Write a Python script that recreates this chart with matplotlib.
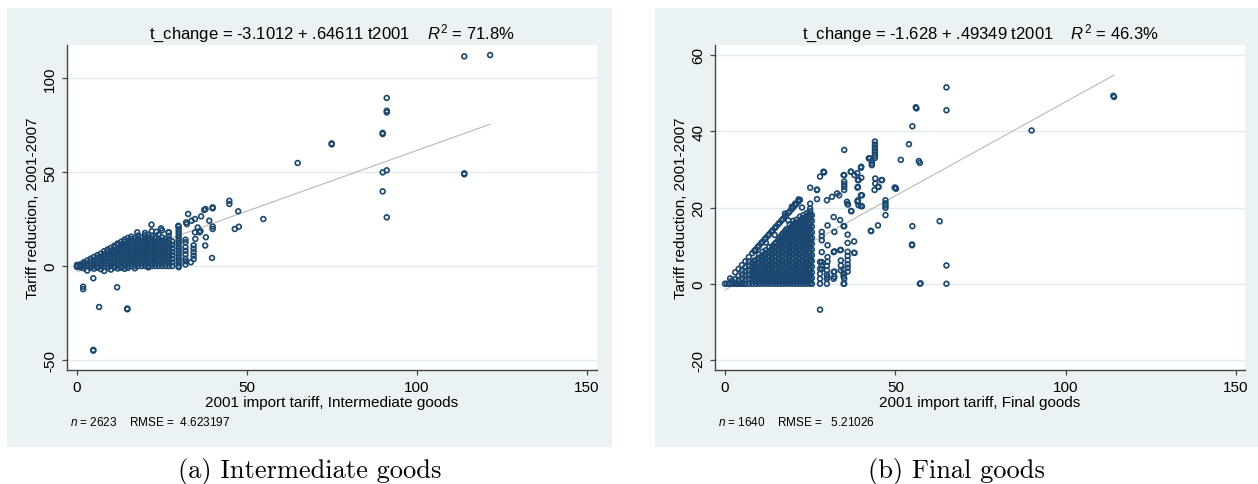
import matplotlib
matplotlib.use("Agg")
import matplotlib.pyplot as plt
from matplotlib.patches import Rectangle

plt.rcParams['font.family'] = ['Liberation Sans', 'DejaVu Sans']
plt.rcParams['mathtext.fontset'] = 'custom'
plt.rcParams['mathtext.rm'] = 'Liberation Sans'
plt.rcParams['mathtext.it'] = 'Liberation Sans:italic'
plt.rcParams['axes.unicode_minus'] = False

# ---------------- data: panel (a) intermediate goods ----------------
A_INTERCEPT = -3.1012
A_SLOPE = 0.64611
A_TITLE = "t_change = -3.1012 + .64611 t2001    $R^2$ = 71.8%"
A_NOTE = "$n$ = 2623    RMSE =  4.623197"
A_XLABEL = "2001 import tariff, Intermediate goods"
A_CAPTION = "(a) Intermediate goods"
A_YTICKS = [-50, 0, 50, 100]

# dense cloud, read column by column: (tariff 2001, [reductions])
A_DENSE = [
    (0, [0, 0.6, -0.5]),
    (1, [0, 0.9, -0.7]),
    (2, [0, 1.0, 2.0, -1.2]),
    (3, [0, 1.4, 2.9, -2.4]),
    (4, [0, 1.3, 2.7, 3.9, -1.0]),
    (5, [0, 1.6, 3.1, 4.8, -1.4]),
    (6, [0, 1.5, 3.0, 4.4, 5.8, -0.9]),
    (7, [0, 1.7, 3.3, 4.9, 6.6, -1.7]),
    (8, [0, 1.6, 3.2, 4.7, 6.3, 7.9, -2.6]),
    (9, [0, 1.5, 3.1, 4.6, 6.2, 7.7, 8.8, -1.1]),
    (10, [0, 1.6, 3.3, 4.9, 6.5, 8.2, 9.7, -1.9]),
    (11, [0, 1.7, 3.4, 5.0, 6.7, 8.3, 9.9, 10.8, -0.8]),
    (12, [0, 1.6, 3.2, 4.8, 6.4, 8.1, 9.6, 11.2, 12.0, -1.3]),
    (13, [0, 1.7, 3.3, 5.0, 6.6, 8.3, 9.9, 11.5, 12.9, -0.9]),
    (14, [0, 1.6, 3.2, 4.9, 6.5, 8.1, 9.8, 11.4, 13.0, 14.1, -1.5]),
    (15, [0, 1.7, 3.4, 5.1, 6.8, 8.4, 10.1, 11.8, 13.4, 15.0, -1.0]),
    (16, [0, 1.6, 3.2, 4.8, 6.4, 8.0, 9.6, 11.2, 12.8, 14.3, 15.6]),
    (17, [0, 1.7, 3.3, 5.0, 6.7, 8.3, 10.0, 11.7, 13.3, 14.9, -1.2]),
    (18, [0, 1.6, 3.3, 4.9, 6.6, 8.2, 9.8, 11.5, 13.1, 14.6, 16.2]),
    (19, [0, 1.7, 3.4, 5.0, 6.7, 8.4, 10.1, 11.8, 13.4, 15.1]),
    (20, [0, 1.6, 3.2, 4.9, 6.5, 8.1, 9.7, 11.4, 13.0, 14.6, 16.3, 17.6]),
    (21, [0, 1.7, 3.4, 5.1, 6.7, 8.4, 10.0, 11.7, 13.4, 15.0, 16.6, -0.7]),
    (22, [0, 1.6, 3.2, 4.8, 6.5, 8.1, 9.7, 11.3, 12.9, 14.6, 16.1, 18.5]),
    (23, [0, 1.7, 3.3, 5.0, 6.6, 8.3, 9.9, 11.6, 13.2, 14.8]),
    (24, [0, 1.6, 3.2, 4.9, 6.5, 8.1, 9.7, 11.3, 13.0, 14.6, 16.8]),
    (25, [0, 1.7, 3.4, 5.0, 6.7, 8.4, 10.0, 11.7, 13.3, 15.2, 19.0]),
    (26, [0, 1.6, 3.3, 4.9, 6.6, 8.2, 9.9, 11.5, 13.1, 14.5]),
    (27, [0, 1.8, 3.5, 5.3, 7.1, 8.9, 10.6, 12.4, 14.2, 16.0, 17.9]),
    (28, [0, 1.9, 3.8, 5.7, 7.5, 9.4, 11.3, 13.1]),
    (29.9, [-0.6, 0, 1.5, 3.0, 4.5, 6.0, 7.5, 9.0, 10.5, 12.0, 13.5, 15.0,
            16.5, 18.0, 19.5, 21.0]),
    (31.9, [0.8, 2.5, 3.9, 6.2, 8.1, 10.0, 12.6]),
    (34.3, [3.7, 5.5, 7.3, 9.2, 11.0]),
]

A_SPARSE_X = [1.8, 1.8, 4.8, 11.8, 6.5, 14.8, 14.8, 4.8, 4.8,
              17.7, 21.9, 23.4, 24.7, 26.9, 29.8,
              32.3, 32.1, 32.7, 33.7, 34.7, 36.5, 34.7, 36.0, 34.8, 31.9,
              37.9, 37.7, 36.3, 37.8, 37.4, 38.9, 39.9, 39.9, 39.9, 39.9,
              39.7, 33.5, 35.5,
              44.8, 44.8, 47.4, 46.4, 47.6, 54.8, 64.9, 74.9, 74.9,
              89.9, 89.9, 91.1, 91.1, 91.1, 89.9, 91.1, 89.9, 91.1,
              113.9, 113.9, 113.9, 121.5]
A_SPARSE_Y = [-11.0, -12.3, -6.5, -11.3, -21.8, -23.0, -22.6, -45.0, -44.6,
              17.9, 22.0, 18.2, 20.0, 17.9, 21.4,
              22.3, 23.2, 27.7, 24.1, 25.0, 26.4, 17.9, 17.9, 14.4, 14.0,
              15.3, 10.9, 18.6, 30.3, 29.8, 24.1, 30.7, 31.2, 19.7, 21.0,
              4.3, 2.0, 20.5,
              33.0, 34.7, 29.1, 19.7, 20.9, 25.0, 54.8, 64.7, 65.2,
              70.2, 70.8, 81.7, 82.6, 89.4, 49.8, 50.9, 39.7, 25.9,
              48.8, 49.3, 111.5, 112.2]

# ---------------- data: panel (b) final goods ----------------
B_INTERCEPT = -1.628
B_SLOPE = 0.49349
B_TITLE = "t_change = -1.628 + .49349 t2001    $R^2$ = 46.3%"
B_NOTE = "$n$ = 1640    RMSE =   5.21026"
B_XLABEL = "2001 import tariff, Final goods"
B_CAPTION = "(b) Final goods"
B_YTICKS = [-20, 0, 20, 40, 60]

B_DENSE = [
    (0, [0]), (0.6, [0]), (1.2, [0]), (1.5, [1.4]), (2.0, [0, 0.8]),
    (2.6, [0]), (3.0, [0, 1.2, 3.0]), (3.6, [0]),
    (4, [0, 1.0, 2.1, 3.9]), (4.6, [0]),
    (5, [0, 1.3, 2.4, 3.5, 4.9]), (5.6, [0]),
    (6, [0, 1.1, 2.2, 3.3, 4.4, 5.9]),
    (7, [0, 1.2, 2.3, 3.5, 4.6, 5.8, 7.0]),
    (8, [0, 1.1, 2.2, 3.3, 4.4, 5.5, 8.0]),
    (8.6, [0.6, 1.7, 2.8, 3.9, 5.0, 6.1, 8.6]),
    (9, [0, 1.2, 2.4, 3.6, 4.8, 6.0, 9.0]),
    (9.6, [0.6, 1.8, 3.0, 4.2, 5.4, 6.6, 9.6]),
    (10, [0, 1.1, 2.2, 3.3, 4.4, 5.5, 6.6, 7.7, 10.0]),
    (10.6, [0.5, 1.6, 2.7, 3.8, 4.9, 6.0, 7.1, 10.6]),
    (11, [0, 1.2, 2.4, 3.6, 4.8, 6.0, 7.2, 8.4, 11.0]),
    (11.6, [0.6, 1.8, 3.0, 4.2, 5.4, 6.6, 7.8, 11.6]),
    (12, [0, 1.1, 2.2, 3.3, 4.4, 5.5, 6.6, 7.7, 8.8, 10.8, 12.0]),
    (12.6, [0.5, 1.7, 2.8, 3.9, 5.0, 6.1, 7.2, 8.3, 12.6]),
    (13, [0, 1.2, 2.4, 3.6, 4.8, 6.0, 7.2, 8.4, 9.6, 13.0]),
    (13.6, [0.6, 1.8, 3.0, 4.2, 5.4, 6.6, 7.8, 9.0, 13.6]),
    (14, [0, 1.1, 2.2, 3.3, 4.4, 5.5, 6.6, 7.7, 8.8, 9.9, 14.0]),
    (14.6, [0.5, 1.7, 2.8, 3.9, 5.0, 6.1, 7.2, 8.3, 9.4, 10.5, 12.8, 14.6]),
    (15, [0, 1.2, 2.4, 3.6, 4.8, 6.0, 7.2, 8.4, 9.6, 10.8, 15.0]),
    (15.6, [0.6, 1.8, 3.0, 4.2, 5.4, 6.6, 7.8, 9.0, 10.2, 11.4, 15.6]),
    (16, [0, 1.1, 2.2, 3.3, 4.4, 5.5, 6.6, 7.7, 8.8, 9.9, 11.0, 12.1, 16.0]),
    (16.6, [0.5, 1.7, 2.8, 3.9, 5.0, 6.1, 7.2, 8.3, 9.4, 10.5, 11.6, 12.7,
            16.6]),
    (17, [0, 1.2, 2.4, 3.6, 4.8, 6.0, 7.2, 8.4, 9.6, 10.8, 12.0, 13.2, 17.0]),
    (17.6, [0.6, 1.8, 3.0, 4.2, 5.4, 6.6, 7.8, 9.0, 10.2, 11.4, 12.6, 13.8,
            17.6, 18.4]),
    (18, [0, 1.1, 2.2, 3.3, 4.4, 5.5, 6.6, 7.7, 8.8, 9.9, 11.0, 12.1, 13.2,
          14.3, 18.0]),
    (18.6, [0.5, 1.7, 2.8, 3.9, 5.0, 6.1, 7.2, 8.3, 9.4, 10.5, 11.6, 12.7,
            13.8, 16.6, 18.6]),
    (19, [0, 1.2, 2.4, 3.6, 4.8, 6.0, 7.2, 8.4, 9.6, 10.8, 12.0, 13.2, 14.4,
          15.6, 19.0]),
    (19.6, [0.6, 1.8, 3.0, 4.2, 5.4, 6.6, 7.8, 9.0, 10.2, 11.4, 12.6, 13.8,
            15.0, 19.6, 20.2]),
    (20, [0, 1.1, 2.2, 3.3, 4.4, 5.5, 6.6, 7.7, 8.8, 9.9, 11.0, 12.1, 13.2,
          14.3, 15.4, 16.5, 20.0]),
    (20.6, [0.5, 1.7, 2.8, 3.9, 5.0, 6.1, 7.2, 8.3, 9.4, 10.5, 11.6, 12.7,
            13.8, 14.9, 16.0, 20.6, 21.0]),
    (21, [0, 1.2, 2.4, 3.6, 4.8, 6.0, 7.2, 8.4, 9.6, 10.8, 12.0, 13.2, 14.4,
          15.6, 16.8, 21.0]),
    (21.6, [0.6, 1.8, 3.0, 4.2, 5.4, 6.6, 7.8, 9.0, 10.2, 11.4, 12.6, 13.8,
            15.0, 16.2, 21.6, 22.1]),
    (22, [0, 1.1, 2.2, 3.3, 4.4, 5.5, 6.6, 7.7, 8.8, 9.9, 11.0, 12.1, 13.2,
          14.3, 15.4, 16.5, 17.6, 22.0]),
    (22.6, [0.5, 1.7, 2.8, 3.9, 5.0, 6.1, 7.2, 8.3, 9.4, 10.5, 11.6, 12.7,
            13.8, 14.9, 16.0, 17.1, 20.0]),
    (23, [0, 1.2, 2.4, 3.6, 4.8, 6.0, 7.2, 8.4, 9.6, 10.8, 12.0, 13.2, 14.4,
          15.6, 16.8, 18.0]),
    (23.6, [0.6, 1.8, 3.0, 4.2, 5.4, 6.6, 7.8, 9.0, 10.2, 11.4, 12.6, 13.8,
            15.0, 16.2, 17.4]),
    (24, [0, 1.1, 2.2, 3.3, 4.4, 5.5, 6.6, 7.7, 8.8, 9.9, 11.0, 12.1, 13.2,
          14.3, 15.4, 16.5, 17.6, 18.5]),
    (24.6, [0.5, 1.7, 2.8, 3.9, 5.0, 6.1, 7.2, 8.3, 9.4, 10.5, 11.6, 12.7,
            13.8, 14.9, 16.0, 17.1, 18.2]),
    (25, [0, 1.2, 2.4, 3.6, 4.8, 6.0, 7.2, 8.4, 9.6, 10.8, 12.0, 13.2, 14.4,
          15.6, 16.8, 18.0, 19.0, 19.7, 21.0]),
    (25.5, [0, 1.5, 3.0, 4.5, 6.0, 7.5, 9.0, 10.5, 12.0, 13.5, 15.0, 16.5,
            18.0]),
    (27.9, [0, 1.3, 2.6, 3.9, 5.7]),
]

B_SPARSE_X = [65, 65, 56, 56.2, 55, 54, 56.9, 57.2, 51.6, 50, 50.2,
              47.1, 47.1, 47.1, 47.1, 47.1,
              44, 44, 44, 44, 44, 44, 44, 43.1, 43.1, 43.1, 42.2,
              40, 36.9, 38.8, 39.2, 44.1, 44.1, 46.1, 44.9, 40, 38.9, 40.2,
              35, 35, 35, 35, 35, 35, 33.5, 31.4, 28.9, 27.9, 25, 27,
              35.8, 39.2, 40.2, 37, 36, 42.8, 44.9, 33.8, 34.8, 63, 55,
              54.9, 54.9, 65, 57.2, 57.4, 65, 27.9,
              38, 36, 36, 36, 36, 36, 36, 31.9, 33.8, 29.9, 34.8,
              34.8, 34.8, 34.8, 31.9, 31.9, 29.9, 29.9, 29.9, 29.9,
              42.6, 39.9, 37, 38, 39, 29.1, 34.8, 32.9, 29.9, 27, 27,
              39, 45.1, 45.9, 43.9, 39.9, 39, 36, 49.8, 42.9,
              36.1, 38.9, 39.9, 37.1, 35, 37.9, 36, 34, 37.9, 32.1, 30.1,
              32.1, 30.1, 31.9, 28.4, 28.4, 28.4, 28.4, 28.4, 28.4, 28.4,
              30.1, 30.1, 30.1, 32.1, 32.1, 34, 34, 34, 35, 35, 35,
              90, 114, 114.2]
B_SPARSE_Y = [51.5, 45.5, 46.3, 46.0, 41.3, 36.6, 32.2, 31.7, 32.5, 25.2, 24.9,
              21.9, 21.1, 20.5, 19.9, 18.0,
              37.3, 36.5, 35.7, 35.0, 34.3, 33.6, 33.0, 32.2, 31.6, 31.1, 32.9,
              30.7, 29.4, 29.0, 27.2, 27.6, 26.3, 27.2, 25.4, 27.8, 25.2, 23.2,
              35.1, 28.5, 26.8, 26.1, 25.4, 24.6, 23.2, 22.8, 29.4, 28.1, 25.2, 24.7,
              21.5, 20.6, 20.3, 19.1, 12.9, 13.9, 15.3, 16.7, 15.1, 16.4, 15.1,
              10.1, 10.3, 4.8, 0, 0.1, 0, -6.8,
              8.1, 8.4, 7.3, 6.2, 5.1, 4.2, 3.2, 8.3, 8.8, 0, 0,
              3.7, 2.6, 1.9, 3.1, 1.3, 4.7, 3.5, 2.4, 1.3,
              32.9, 30.4, 29.4, 28.5, 27.2, 29.2, 28.5, 23.7, 21.9, 22.2, 24.6,
              25.4, 25.4, 27.2, 24.6, 23.2, 21.9, 20.9, 25.2, 13.8,
              20.8, 21.5, 20.4, 19.0, 15.1, 11.1, 10.7, 8.9, 8.1, 8.5, 10.1,
              13.6, 15.3, 17.5, 13.6, 12.5, 11.4, 8.3, 5.7, 4.8, 3.9,
              7.0, 5.8, 1.8, 3.2, 1.8, 6.1, 4.8, 3.5, 2.6, 1.3, 0,
              40.2, 49.3, 49.0]

XTICKS = [0, 50, 100, 150]
YLABEL = "Tariff reduction, 2001-2007"

# ---------------- styling ----------------
W, H = 1258, 485
BG = '#eaf2f3'
NAVY = '#1a476f'
AXC = '#454545'
GRID = '#e1eaed'
FIT = '#b8b8b8'

fig = plt.figure(figsize=(W / 100, H / 100), dpi=100)
fig.patch.set_facecolor('white')


def fx(px):
    return px / W


def fy(py):
    return 1 - py / H


def flatten(cols):
    xs, ys = [], []
    for x, yl in cols:
        for y in yl:
            xs.append(x)
            ys.append(y)
    return xs, ys


def panel(bg_box, ax_box, xlim, ylim, yticks, dense, sx, sy, a, b,
          title, xlabel, note, caption):
    bx0, bx1, by0, by1 = bg_box
    fig.patches.append(Rectangle((fx(bx0), fy(by1)), fx(bx1) - fx(bx0),
                                 fy(by0) - fy(by1), transform=fig.transFigure,
                                 facecolor=BG, edgecolor='none', zorder=-10))
    l, r, t, btm = ax_box
    ax = fig.add_axes([fx(l), fy(btm), fx(r) - fx(l), fy(t) - fy(btm)])
    ax.set_zorder(1)
    ax.set_facecolor('white')
    ax.set_xlim(*xlim)
    ax.set_ylim(*ylim)
    ax.set_xticks(XTICKS)
    ax.set_yticks(yticks)
    ax.yaxis.grid(True, color=GRID, lw=1.0)
    ax.set_axisbelow(True)
    for s in ('top', 'right'):
        ax.spines[s].set_visible(False)
    for s in ('left', 'bottom'):
        ax.spines[s].set_color(AXC)
        ax.spines[s].set_linewidth(1.0)
    ax.tick_params(axis='both', direction='out', length=3.5, width=0.9,
                   color=AXC, labelsize=11, labelcolor='black')
    ax.tick_params(axis='x', pad=4)
    ax.tick_params(axis='y', pad=3.5)
    for lab in ax.get_yticklabels():
        lab.set_rotation(90)
        lab.set_va('center')
        lab.set_ha('right')

    dx, dy = flatten(dense)
    allx = dx + sx
    x0, x1 = min(allx), max(allx)
    ax.plot([x0, x1], [a + b * x0, a + b * x1], color=FIT, lw=0.8, zorder=2)
    ax.scatter(allx, dy + sy, s=12, facecolors='none', edgecolors=NAVY,
               linewidths=1.2, zorder=3, clip_on=False)

    ax.set_title(title, fontsize=12, pad=4.5)
    ax.set_xlabel(xlabel, fontsize=11, labelpad=0.5)
    ax.set_ylabel(YLABEL, fontsize=11)
    ax.yaxis.set_label_coords(-27.0 / (r - l), 0.5)
    fig.text(fx(l + 3), fy(426.5), note, fontsize=8.5, va='baseline',
             ha='left', zorder=2)
    fig.text(fx((bx0 + bx1) / 2), fy(478), caption, fontsize=19,
             family='cmr10', va='baseline', ha='center', zorder=2)
    return ax


panel((7, 612, 9, 448), (67, 597, 46, 371), (-2.94, 152.94), (-55.3, 117.55),
      A_YTICKS, A_DENSE, A_SPARSE_X, A_SPARSE_Y, A_INTERCEPT, A_SLOPE,
      A_TITLE, A_XLABEL, A_NOTE, A_CAPTION)
panel((655, 1258, 9, 448), (715, 1245, 46, 371), (-2.94, 152.64),
      (-22.62, 62.62), B_YTICKS, B_DENSE, B_SPARSE_X, B_SPARSE_Y,
      B_INTERCEPT, B_SLOPE, B_TITLE, B_XLABEL, B_NOTE, B_CAPTION)

fig.savefig('out.png', dpi=100, facecolor='white')
